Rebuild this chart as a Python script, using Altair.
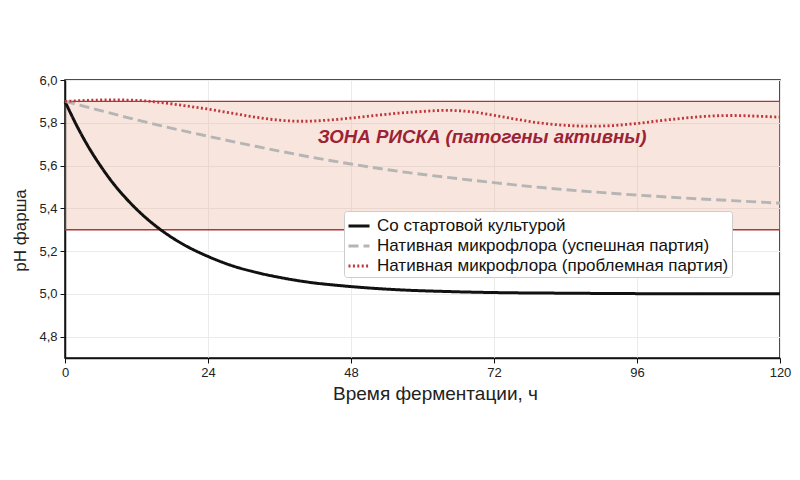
import altair as alt
import pandas as pd

# --- data ---
series_names = [
    "Со стартовой культурой",
    "Нативная микрофлора (успешная партия)",
    "Нативная микрофлора (проблемная партия)",
]

t_starter = [0, 2, 4, 6, 8, 10, 12, 16, 20, 24, 28, 32, 36, 40, 48, 56, 64, 72, 84, 96, 108, 120]
ph_starter = [5.90, 5.785, 5.684, 5.597, 5.520, 5.454, 5.396, 5.301, 5.229, 5.175, 5.132, 5.101,
              5.077, 5.058, 5.034, 5.019, 5.011, 5.006, 5.003, 5.001, 5.000, 5.000]

t_success = [0, 5, 10, 16, 24, 32, 40, 48, 56, 64, 72, 80, 88, 96, 104, 112, 120]
ph_success = [5.90, 5.864, 5.828, 5.787, 5.737, 5.690, 5.646, 5.607, 5.573, 5.545, 5.520,
              5.497, 5.478, 5.462, 5.448, 5.436, 5.424]

t_problem = [0, 4, 8, 12, 16, 20, 24, 28, 32, 36, 40, 44, 48, 52, 56, 60, 64, 68, 72, 76, 80,
             84, 88, 92, 96, 100, 104, 108, 112, 116, 120]
ph_problem = [5.90, 5.905, 5.907, 5.905, 5.895, 5.880, 5.864, 5.845, 5.826, 5.812, 5.807, 5.812,
              5.822, 5.834, 5.845, 5.853, 5.858, 5.852, 5.835, 5.815, 5.798, 5.788, 5.784, 5.787,
              5.797, 5.810, 5.822, 5.831, 5.834, 5.831, 5.826]

risk_low, risk_high = 5.3, 5.9
risk_label = "ЗОНА РИСКА (патогены активны)"
label_t, label_ph = 70, 5.735

x_ticks = [0, 24, 48, 72, 96, 120]
y_ticks = [4.8, 5.0, 5.2, 5.4, 5.6, 5.8, 6.0]

colors = ["#111111", "#b5b5b5", "#c0343a"]
dashes = [[1, 0], [10, 5], [2, 2.4]]
widths = [3, 2.8, 2]

rows = []
for name, ts, ps in [(series_names[0], t_starter, ph_starter),
                     (series_names[1], t_success, ph_success),
                     (series_names[2], t_problem, ph_problem)]:
    for t, p in zip(ts, ps):
        rows.append({"t": t, "ph": p, "series": name})
lines_df = pd.DataFrame(rows)

band_df = pd.DataFrame({"x0": [0], "x1": [120], "y0": [risk_low], "y1": [risk_high]})
bounds_df = pd.DataFrame({"y": [risk_low, risk_high]})
label_df = pd.DataFrame({"t": [label_t], "ph": [label_ph], "txt": [risk_label]})

FONT = "Liberation Sans"

xscale = alt.Scale(domain=[0, 120], nice=False)
yscale = alt.Scale(domain=[4.7, 6.0], nice=False, zero=False)

xaxis = alt.Axis(values=x_ticks, title="Время ферментации, ч", titleFontSize=19,
                 titleFontWeight="normal", titlePadding=5, titleX=370, labelFontSize=13,
                 tickSize=5, labelPadding=3, labelFlush=False)
yaxis = alt.Axis(values=y_ticks, title="pH фарша", titleFontSize=17, titleFontWeight="normal",
                 titlePadding=9, titleY=150, labelFontSize=13, tickSize=5, labelPadding=3,
                 labelExpr="replace(format(datum.value, '.1f'), '.', ',')")

band = alt.Chart(band_df).mark_rect(color="#e8a98f", opacity=0.3).encode(
    x=alt.X("x0:Q", scale=xscale, axis=xaxis),
    x2="x1:Q",
    y=alt.Y("y0:Q", scale=yscale, axis=yaxis),
    y2="y1:Q",
)

bounds = alt.Chart(bounds_df).mark_rule(color="#b03535", strokeWidth=1.4).encode(
    y=alt.Y("y:Q", scale=yscale)
)

label = alt.Chart(label_df).mark_text(
    color="#9b2335", fontSize=18.7, fontWeight="bold", fontStyle="italic",
    align="center", baseline="middle", font=FONT
).encode(
    x=alt.X("t:Q", scale=xscale),
    y=alt.Y("ph:Q", scale=yscale),
    text="txt:N",
)

lines = alt.Chart(lines_df).mark_line(interpolate="monotone").encode(
    x=alt.X("t:Q", scale=xscale),
    y=alt.Y("ph:Q", scale=yscale),
    color=alt.Color("series:N", scale=alt.Scale(domain=series_names, range=colors),
                    legend=alt.Legend(title=None)),
    strokeDash=alt.StrokeDash("series:N", scale=alt.Scale(domain=series_names, range=dashes),
                              legend=alt.Legend(title=None)),
    strokeWidth=alt.StrokeWidth("series:N", scale=alt.Scale(domain=series_names, range=widths),
                                legend=alt.Legend(title=None)),
    order=alt.Order("t:Q"),
)

chart = alt.layer(band, bounds, label, lines).properties(
    width=715,
    height=278,
    autosize=alt.AutoSizeParams(type="none"),
    padding={"left": 57, "top": 72, "right": 12, "bottom": 100},
).configure(
    font=FONT,
).configure_view(
    stroke="#111111", strokeWidth=1.5
).configure_axis(
    domainColor="#111111", domainWidth=1.5, tickColor="#111111", labelColor="#222222",
    titleColor="#222222", gridColor="#ebebeb", gridWidth=1, labelFont=FONT, titleFont=FONT,
).configure_legend(
    orient="none", legendX=279, legendY=131,
    labelFontSize=17, labelFont=FONT, labelColor="#111111", labelLimit=500,
    symbolType="stroke", symbolSize=441, symbolOffset=0,
    fillColor="#ffffff", strokeColor="#cccccc", cornerRadius=3, padding=3,
    rowPadding=0, labelOffset=6,
)

chart.save("out.html", embed_options={"renderer": "svg", "actions": False})
